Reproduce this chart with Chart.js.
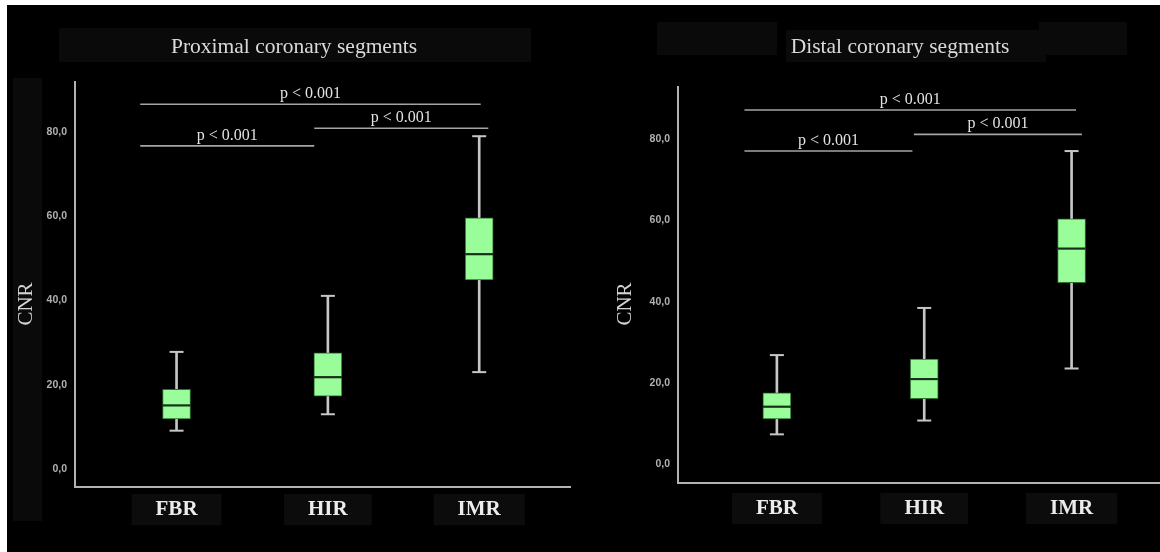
<!DOCTYPE html>
<html>
<head>
<meta charset="utf-8">
<script src="https://cdn.jsdelivr.net/npm/chart.js@4.4.0/dist/chart.umd.min.js"></script>
<style>
  html, body { margin: 0; padding: 0; background: #ffffff; }
  #wrap { position: relative; width: 1160px; height: 552px; overflow: hidden; }
  canvas { position: absolute; top: 0; }
  #cLeft { left: 0; }
  #cRight { left: 580px; }
</style>
</head>
<body>
<div id="wrap">
  <canvas id="cLeft" width="580" height="552"></canvas>
  <canvas id="cRight" width="580" height="552"></canvas>
</div>
<script>
// ---------- data ----------
const categories = ['FBR', 'HIR', 'IMR'];
const categoryIndex = [1, 2, 3];
const yTickValues = [0, 20, 40, 60, 80];
const panelTitles = ['Proximal coronary segments', 'Distal coronary segments'];
const yAxisTitle = 'CNR';

// Proximal segments (five-number summaries)
const proxMin    = [9.1, 13.0, 23.0];
const proxQ1     = [11.9, 17.3, 44.9];
const proxMedian = [15.1, 21.8, 51.0];
const proxQ3     = [18.9, 27.6, 59.6];
const proxMax    = [27.8, 41.1, 79.0];

// Distal segments
const distMin    = [7.4, 10.8, 23.6];
const distQ1     = [11.2, 16.2, 44.7];
const distMedian = [14.2, 21.0, 53.1];
const distQ3     = [17.6, 25.9, 60.4];
const distMax    = [26.9, 38.5, 77.1];

// Significance brackets (category units for from/to, CNR for level)
const pLabels         = ['p < 0.001', 'p < 0.001', 'p < 0.001'];
const proxBracketFrom = [0.76, 1.91, 0.76];
const proxBracketTo   = [3.01, 3.06, 1.91];
const proxBracketY    = [86.6, 80.9, 76.7];
const distBracketFrom = [0.78, 1.93, 0.78];
const distBracketTo   = [3.03, 3.07, 1.92];
const distBracketY    = [87.2, 81.2, 77.1];

// ---------- styles ----------
const BOX_FILL = '#99fd99';
const BOX_EDGE = '#2f6e2f';
const MEDIAN = '#16301a';
const WHISKER = '#c6c6c6';
const AXIS = '#b2b2b2';
const DECOR = '#0a0a0a';

function pairs(xs, ys) { return xs.map((x, i) => ({ x: x, y: ys[i] })); }

function buildDatasets(mn, q1, med, q3, mx, bFrom, bTo, bY) {
  const ds = [];
  ds.push({
    type: 'scatter', data: pairs(categoryIndex, med),
    pointStyle: 'line', pointRadius: 14, pointBorderWidth: 2.2,
    pointBorderColor: MEDIAN, pointBackgroundColor: MEDIAN, order: 0
  });
  ds.push({
    type: 'scatter', data: pairs(categoryIndex, mn).concat(pairs(categoryIndex, mx)),
    pointStyle: 'line', pointRadius: 7, pointBorderWidth: 2,
    pointBorderColor: WHISKER, pointBackgroundColor: WHISKER, order: 1
  });
  ds.push({
    type: 'bar', data: categoryIndex.map((c, i) => ({ x: c, y: [q1[i], q3[i]] })),
    backgroundColor: BOX_FILL, borderColor: BOX_EDGE, borderWidth: 1,
    borderSkipped: false, barThickness: 28, grouped: false, order: 2
  });
  ds.push({
    type: 'bar', data: categoryIndex.map((c, i) => ({ x: c, y: [mn[i], mx[i]] })),
    backgroundColor: WHISKER, borderWidth: 0,
    barThickness: 2, grouped: false, order: 3
  });
  bY.forEach((y, i) => {
    ds.push({
      type: 'line', data: [{ x: bFrom[i], y: y }, { x: bTo[i], y: y }],
      borderColor: '#a4a4a4', borderWidth: 1.6, pointRadius: 0, fill: false, order: 4
    });
  });
  return ds;
}

const annotationPlugin = {
  id: 'annot',
  beforeDraw(chart, args, o) {
    const ctx = chart.ctx;
    ctx.save();
    ctx.fillStyle = '#ffffff';
    ctx.fillRect(0, 0, chart.width, chart.height);
    ctx.fillStyle = '#000000';
    ctx.fillRect(o.blackLeft, 5, chart.width - o.blackLeft, chart.height - 5);
    o.rects.forEach(r => {
      ctx.fillStyle = DECOR;
      ctx.fillRect(r[0], r[1], r[2] - r[0], r[3] - r[1]);
    });
    ctx.restore();
  },
  afterDraw(chart, args, o) {
    const ctx = chart.ctx;
    const xs = chart.scales.x, ys = chart.scales.y;
    ctx.save();
    ctx.fillStyle = '#dadada';
    ctx.font = '21.5px "Liberation Serif", "Times New Roman", serif';
    ctx.textAlign = 'center';
    ctx.textBaseline = 'alphabetic';
    ctx.fillText(o.title, o.titleX, 53);
    ctx.save();
    ctx.translate(o.cnrX, 304);
    ctx.rotate(-Math.PI / 2);
    ctx.fillStyle = '#d4d4d4';
    ctx.font = '21px "Liberation Serif", "Times New Roman", serif';
    ctx.textBaseline = 'middle';
    ctx.fillText(yAxisTitle, 0, 0);
    ctx.restore();
    ctx.font = '16px "Liberation Serif", "Times New Roman", serif';
    ctx.fillStyle = '#e2e2e2';
    ctx.textAlign = 'center';
    ctx.textBaseline = 'alphabetic';
    o.bY.forEach((y, i) => {
      const cx = xs.getPixelForValue((o.bFrom[i] + o.bTo[i]) / 2);
      ctx.fillText(pLabels[i], cx, ys.getPixelForValue(y) - 6);
    });
    ctx.restore();
  }
};

function makeChart(id, cfg) {
  const ds = buildDatasets(cfg.mn, cfg.q1, cfg.med, cfg.q3, cfg.mx, cfg.bFrom, cfg.bTo, cfg.bY);
  return new Chart(document.getElementById(id), {
    type: 'bar',
    data: { datasets: ds },
    plugins: [annotationPlugin],
    options: {
      responsive: false,
      animation: false,
      events: [],
      layout: { autoPadding: false, padding: { left: 0, top: cfg.top, right: cfg.right, bottom: 0 } },
      plugins: {
        legend: { display: false },
        title: { display: false },
        tooltip: { enabled: false },
        annot: {
          blackLeft: cfg.blackLeft, rects: cfg.rects, title: cfg.title, titleX: cfg.titleX,
          cnrX: cfg.cnrX, bFrom: cfg.bFrom, bTo: cfg.bTo, bY: cfg.bY
        }
      },
      scales: {
        x: {
          type: 'linear', min: 0.329, max: 3.6, offset: false,
          afterBuildTicks: s => { s.ticks = categoryIndex.map(v => ({ value: v })); },
          afterFit: s => { s.height = cfg.xHeight; s.paddingLeft = 0; s.paddingRight = 0; },
          grid: { display: false, drawTicks: false, offset: false },
          border: { display: true, color: AXIS, width: 2 },
          ticks: {
            callback: v => categories[v - 1],
            color: '#ececec',
            font: { family: '"Liberation Serif", "Times New Roman", serif', size: 21, weight: 'bold' },
            padding: cfg.xPad,
            maxRotation: 0,
            autoSkip: false,
            showLabelBackdrop: true,
            backdropColor: '#0c0c0c',
            backdropPadding: { left: 24, right: 24, top: 3, bottom: 3 }
          }
        },
        y: {
          type: 'linear', min: cfg.yMin, max: cfg.yMax,
          afterBuildTicks: s => { s.ticks = yTickValues.map(v => ({ value: v })); },
          afterFit: s => { s.width = cfg.yWidth; },
          grid: { display: false, drawTicks: false },
          border: { display: true, color: AXIS, width: 2 },
          ticks: {
            callback: v => v.toFixed(1).replace('.', ','),
            color: '#b0b0b0',
            font: { family: '"Liberation Sans", Arial, sans-serif', size: 10.5, weight: 'bold' },
            padding: 8
          }
        }
      }
    }
  });
}

makeChart('cLeft', {
  mn: proxMin, q1: proxQ1, med: proxMedian, q3: proxQ3, mx: proxMax,
  bFrom: proxBracketFrom, bTo: proxBracketTo, bY: proxBracketY,
  top: 82, right: 10, xHeight: 65, xPad: 10, yWidth: 75, yMin: -4.27, yMax: 91.87,
  blackLeft: 7, title: panelTitles[0], titleX: 294, cnrX: 26,
  rects: [
    [59, 28, 531, 62],
    [13, 78, 42, 521]
  ]
});

makeChart('cRight', {
  mn: distMin, q1: distQ1, med: distMedian, q3: distQ3, mx: distMax,
  bFrom: distBracketFrom, bTo: distBracketTo, bY: distBracketY,
  top: 87, right: 0, xHeight: 69, xPad: 13, yWidth: 98, yMin: -4.57, yMax: 92.86,
  blackLeft: 0, title: panelTitles[1], titleX: 320, cnrX: 45,
  rects: [
    [77, 22, 197, 55],
    [206, 30, 466, 62],
    [459, 22, 547, 55]
  ]
});
</script>
</body>
</html>
